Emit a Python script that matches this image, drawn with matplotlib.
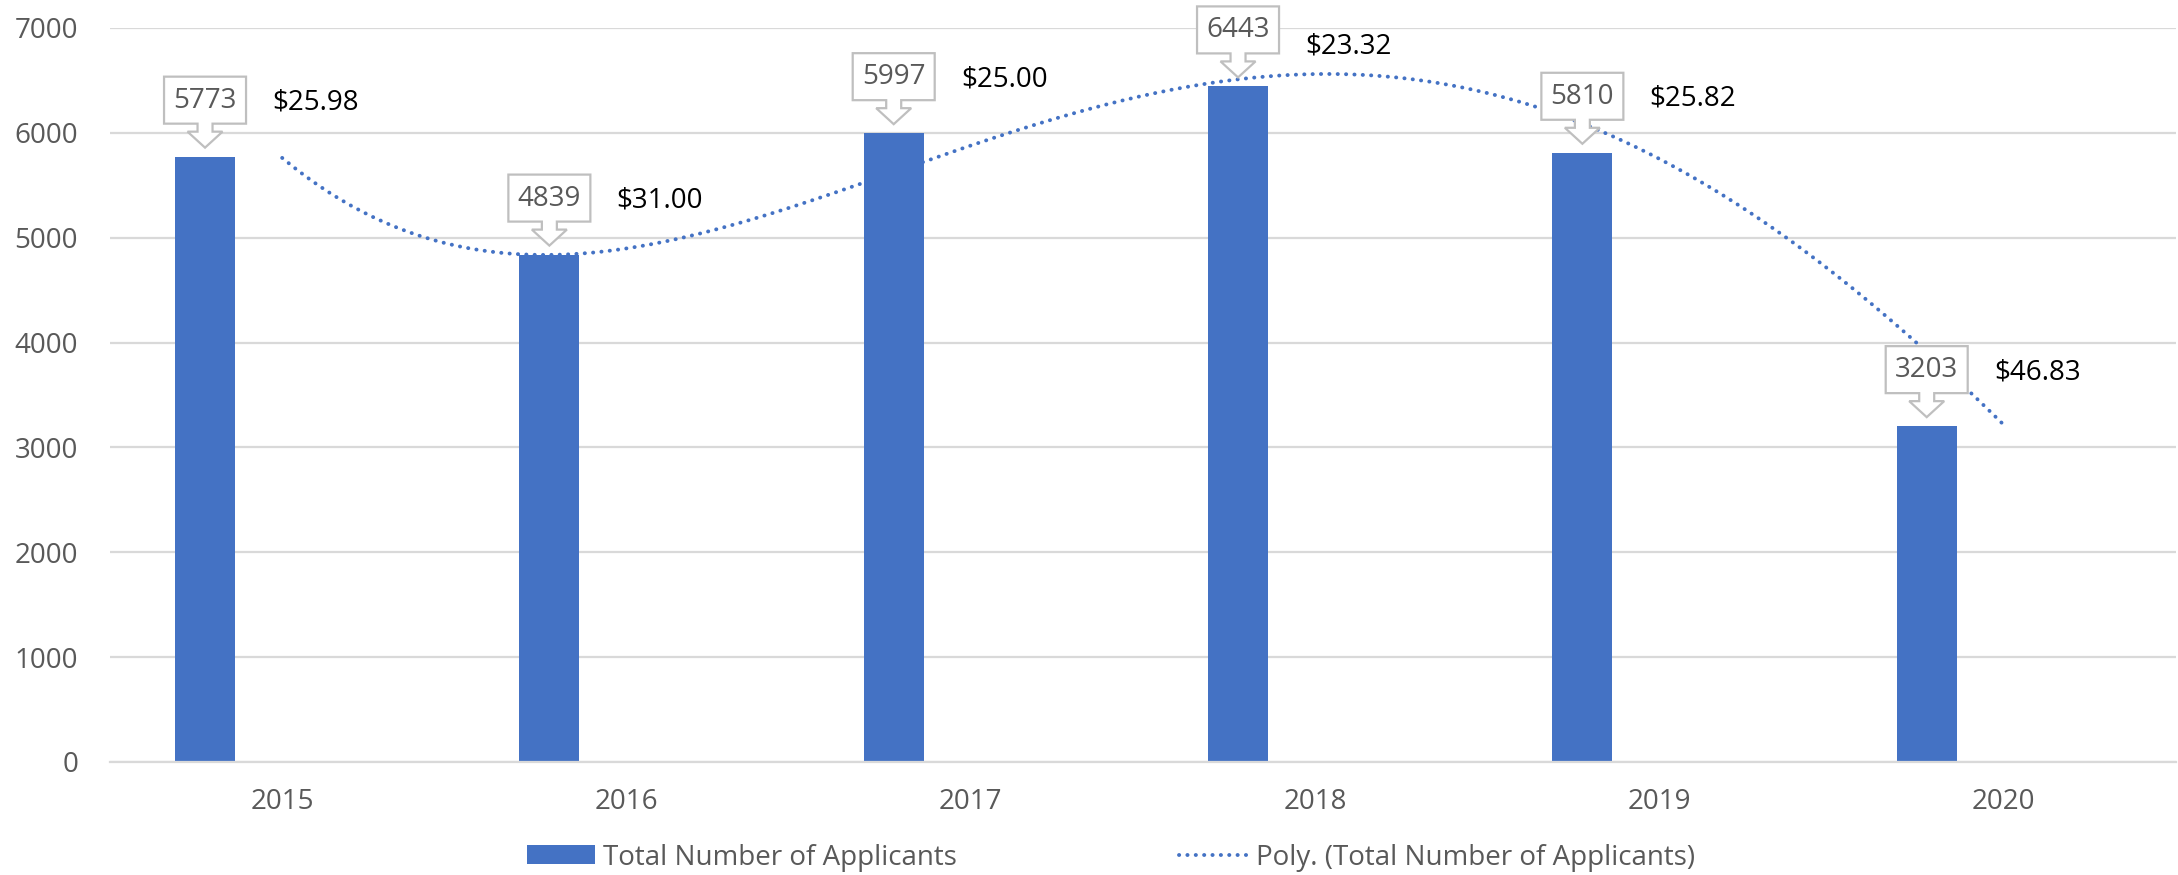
import numpy as np
import matplotlib
matplotlib.use("Agg")
import matplotlib.pyplot as plt
import matplotlib.transforms as mtransforms
from matplotlib.patches import Polygon
from matplotlib.lines import Line2D
from matplotlib.patches import Patch

plt.rcParams['font.family'] = ['Open Sans', 'DejaVu Sans']

years = ["2015", "2016", "2017", "2018", "2019", "2020"]
applicants = [5773, 4839, 5997, 6443, 5810, 3203]
prices = ["$25.98", "$31.00", "$25.00", "$23.32", "$25.82", "$46.83"]

blue = "#4472C4"
grey_text = "#595959"
grid = "#D9D9D9"
fontsize = 20
dotted = (0, (0.05, 2.1))

fig = plt.figure(figsize=(21.78, 8.75), dpi=100)
ax = fig.add_axes([110 / 2178, 113 / 875, 2066 / 2178, 734 / 875])

x = np.arange(len(years))
bar_shift = -0.224
ax.bar(x + bar_shift, applicants, width=0.174, color=blue, zorder=2)

# polynomial trendline (order 4), drawn at category centres like Excel does
coef = np.polyfit(x, applicants, 4)
xs = np.linspace(0, len(years) - 1, 300)
ax.plot(xs, np.polyval(coef, xs), color=blue, lw=2.8,
        linestyle=dotted, dash_capstyle="round", zorder=3)

# callout boxes with a down arrow (vertices in pixels, relative to bar top)
px = 1 / 100
shape = [(-41, 33), (-7.5, 33), (-7.5, 25), (-17.5, 25), (0, 9), (17.5, 25),
         (7.5, 25), (7.5, 33), (41, 33), (41, 80), (-41, 80)]
shape = [(a * px, b * px) for a, b in shape]
price_dy = {3: -14}
for i, v in enumerate(applicants):
    xb = i + bar_shift
    tr = fig.dpi_scale_trans + mtransforms.ScaledTranslation(xb, v, ax.transData)
    ax.add_patch(Polygon(shape, closed=True, transform=tr, facecolor="white",
                         edgecolor="#BFBFBF", lw=1.6, zorder=4, clip_on=False))
    ax.annotate(str(v), xy=(xb, v), xytext=(0, 56 * 0.72), textcoords="offset points",
                ha="center", va="center", fontsize=fontsize, color=grey_text, zorder=5)
    ax.annotate(prices[i], xy=(i, v), xytext=(-10 * 0.72, (54 + price_dy.get(i, 0)) * 0.72),
                textcoords="offset points", ha="left", va="center",
                fontsize=fontsize, color="black", zorder=5)

ax.set_xlim(-0.5, len(years) - 0.5)
ax.set_ylim(0, 7000)
ax.set_yticks(range(0, 7001, 1000))
ax.set_xticks(x)
ax.set_xticklabels(years)
ax.tick_params(axis="both", length=0, labelsize=fontsize, labelcolor=grey_text)
ax.tick_params(axis="y", pad=23)
ax.tick_params(axis="x", pad=19)
ax.grid(axis="y", color=grid, lw=1.6, zorder=0)
ax.set_axisbelow(True)
for s in ["top", "right", "left"]:
    ax.spines[s].set_visible(False)
ax.spines["bottom"].set_color(grid)
ax.spines["bottom"].set_linewidth(1.6)

handles = [Patch(facecolor=blue, edgecolor="none"),
           Line2D([0], [0], color=blue, lw=2.8, linestyle=dotted,
                  dash_capstyle="round")]
fig.legend(handles, ["Total Number of Applicants", "Poly. (Total Number of Applicants)"],
           loc="center", bbox_to_anchor=(0.51, 0.02), ncol=2, frameon=False,
           fontsize=fontsize, labelcolor=grey_text, handlelength=2.45, handleheight=0.65,
           handletextpad=0.3, columnspacing=8)

fig.savefig("out.png", dpi=100)
